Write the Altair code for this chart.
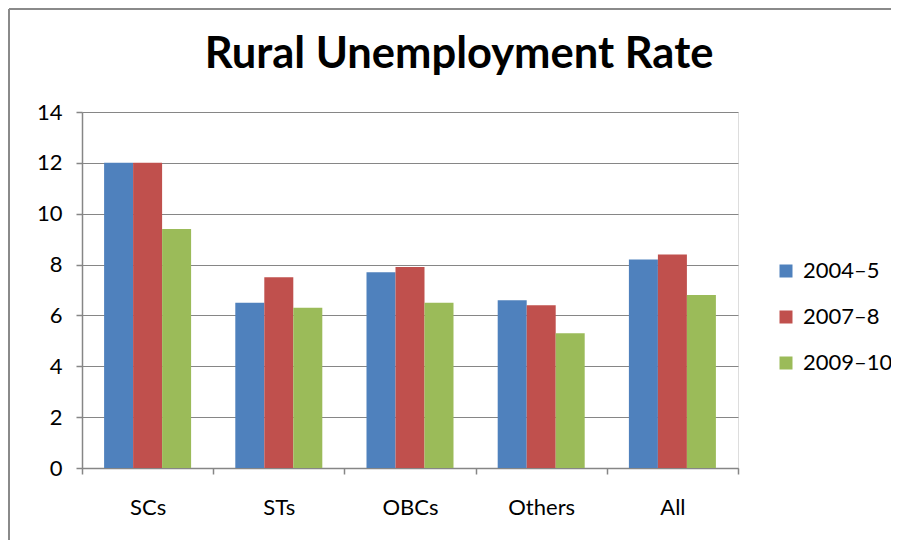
import altair as alt
import pandas as pd

categories = ["SCs", "STs", "OBCs", "Others", "All"]
years = ["2004–5", "2007–8", "2009–10"]
v_2004 = [12.0, 6.5, 7.7, 6.6, 8.2]
v_2007 = [12.0, 7.5, 7.9, 6.4, 8.4]
v_2009 = [9.4, 6.3, 6.5, 5.3, 6.8]
colors = ["#4F81BD", "#C0504D", "#9BBB59"]
y_ticks = [0, 2, 4, 6, 8, 10, 12, 14]
title_text = "Rural Unemployment Rate"

rows = []
for yr, vals in zip(years, [v_2004, v_2007, v_2009]):
    for c, v in zip(categories, vals):
        rows.append({"Group": c, "Year": yr, "Rate": v})
df = pd.DataFrame(rows)

W, H = 656, 356
PL, PT, PR, PB = 74, 104, 153, 72
FONT = "Lato"
GRAY = "#868686"
FS = 22

bars = alt.Chart(df).mark_bar().encode(
    x=alt.X("Group:N", sort=categories, title=None,
            scale=alt.Scale(paddingInner=0, paddingOuter=0),
            axis=alt.Axis(tickBand="extent", tickSize=6, labelPadding=23,
                          labelFontSize=FS, labelFont=FONT, labelColor="#000000",
                          labelAngle=0, domainColor=GRAY, tickColor=GRAY,
                          domainWidth=1.5, tickWidth=1.5, grid=False)),
    xOffset=alt.XOffset("Year:N", sort=years,
                        scale=alt.Scale(paddingInner=0, paddingOuter=0.762)),
    y=alt.Y("Rate:Q", title=None,
            scale=alt.Scale(domain=[0, 14], nice=False),
            axis=alt.Axis(values=y_ticks, tickSize=6, labelPadding=14,
                          labelFontSize=FS, labelFont=FONT, labelColor="#000000",
                          domainColor=GRAY, tickColor=GRAY, gridColor=GRAY,
                          domainWidth=1.5, tickWidth=1.5, gridWidth=1.2)),
    color=alt.Color("Year:N", sort=years,
                    scale=alt.Scale(domain=years, range=colors),
                    legend=alt.Legend(title=None, orient="none",
                                      legendX=693, legendY=148,
                                      symbolType="square", symbolSize=169,
                                      symbolStrokeWidth=0,
                                      labelFontSize=FS, labelFont=FONT,
                                      labelColor="#000000", labelOffset=6,
                                      rowPadding=24)),
)

one = pd.DataFrame({"t": [title_text]})
title = alt.Chart(one).mark_text(font=FONT, fontSize=43.5, fontWeight="bold",
                                 color="#000000", align="center",
                                 baseline="alphabetic").encode(
    text="t:N", x=alt.value(377), y=alt.value(-44))

left_line = alt.Chart(one).mark_rule(color="#8a8a8a", strokeWidth=2).encode(
    x=alt.value(-73), y=alt.value(-103), y2=alt.value(H + PB))
top_line = alt.Chart(one).mark_rule(color="#8a8a8a", strokeWidth=2).encode(
    x=alt.value(-73), x2=alt.value(W + PR), y=alt.value(-103))

chart = alt.layer(bars, title, left_line, top_line).properties(
    width=W, height=H,
    autosize=alt.AutoSizeParams(type="none"),
    padding={"left": PL, "top": PT, "right": PR, "bottom": PB},
).configure_view(stroke=None).configure(background="white")

chart.save("out.html", embed_options={"renderer": "svg", "actions": False})
